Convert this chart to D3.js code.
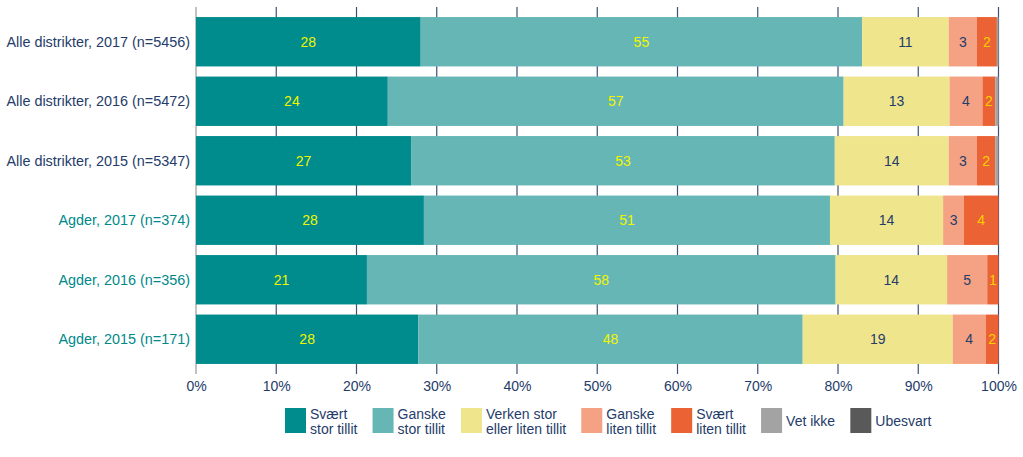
<!DOCTYPE html>
<html><head><meta charset="utf-8">
<script src="https://cdn.jsdelivr.net/npm/d3@7"></script>
<style>body{margin:0;background:#fff}svg{display:block;font-family:"Liberation Sans",Arial,sans-serif}</style>
</head><body><svg id="c" width="1023" height="457"></svg>
<script>
const categories = ["Alle distrikter, 2017 (n=5456)","Alle distrikter, 2016 (n=5472)","Alle distrikter, 2015 (n=5347)","Agder, 2017 (n=374)","Agder, 2016 (n=356)","Agder, 2015 (n=171)"];
const seriesNames = ["Svært stor tillit","Ganske stor tillit","Verken stor eller liten tillit","Ganske liten tillit","Svært liten tillit","Vet ikke","Ubesvart"];
const legendLines = [["Svært","stor tillit"],["Ganske","stor tillit"],["Verken stor","eller liten tillit"],["Ganske","liten tillit"],["Svært","liten tillit"],["Vet ikke"],["Ubesvart"]];
const svaertStor  = [28.0, 23.9, 26.8, 28.4, 21.3, 27.7];
const ganskeStor  = [55.0, 56.8, 52.8, 50.6, 58.4, 47.9];
const verken      = [10.8, 13.2, 14.2, 14.1, 13.9, 18.7];
const ganskeLiten = [3.5, 4.1, 3.5, 2.6, 5.0, 4.1];
const svaertLiten = [2.5, 1.6, 2.3, 4.3, 1.4, 1.6];
const vetIkke     = [0.2, 0.4, 0.4, 0.0, 0.0, 0.0];
const ubesvart    = [0.0, 0.0, 0.0, 0.0, 0.0, 0.0];
const barLabels = [
  ["28","55","11","3","2"],["24","57","13","4","2"],["27","53","14","3","2"],
  ["28","51","14","3","4"],["21","58","14","5","1"],["28","48","19","4","2"]];
const xTicks = [0,10,20,30,40,50,60,70,80,90,100];

const colors = ["#008b8c","#66b6b6","#efe58d","#f4a283","#eb6234","#a3a3a3","#595959"];
const labelColors = ["#f2f500","#f2f500","#253c6a","#253c6a","#ffd000"];
const navy = "#253c6a";

const seriesVals = [svaertStor,ganskeStor,verken,ganskeLiten,svaertLiten,vetIkke,ubesvart];
const rows = categories.map((c,i)=>{const o={cat:c};seriesNames.forEach((s,j)=>o[s]=seriesVals[j][i]);return o;});
const stacked = d3.stack().keys(seriesNames)(rows);

const svg = d3.select("#c");
const m = {l:196, r:998.5, t:12, b:369};
const x = d3.scaleLinear().domain([0,100]).range([m.l,m.r]);
const y = d3.scaleBand().domain(categories).range([m.t,m.b]).paddingInner(0.17).paddingOuter(0.085);

// gridlines
svg.append("g").selectAll("line").data(xTicks.slice(1)).join("line")
  .attr("x1",d=>x(d)).attr("x2",d=>x(d)).attr("y1",7).attr("y2",374)
  .attr("stroke","#3d5373").attr("stroke-width",1.2);
// left axis
svg.append("line").attr("x1",x(0)).attr("x2",x(0)).attr("y1",7).attr("y2",374).attr("stroke","#999").attr("stroke-width",1.2);

// bars
const g = svg.append("g");
stacked.forEach((s,j)=>{
  g.append("g").attr("fill",colors[j]).selectAll("rect").data(s).join("rect")
   .attr("x",d=>x(d[0])).attr("width",d=>Math.max(0,x(d[1])-x(d[0])))
   .attr("y",d=>y(d.data.cat)).attr("height",y.bandwidth());
});
// bar labels
stacked.slice(0,5).forEach((s,j)=>{
  g.append("g").selectAll("text").data(s).join("text")
   .attr("x",d=>(x(d[0])+x(d[1]))/2).attr("y",d=>y(d.data.cat)+y.bandwidth()/2)
   .attr("dy","0.36em").attr("text-anchor","middle").attr("font-size",14)
   .attr("fill",labelColors[j]).text((d,i)=>barLabels[i][j]);
});

// category labels
svg.append("g").selectAll("text").data(categories).join("text")
  .attr("x",190).attr("y",d=>y(d)+y.bandwidth()/2).attr("dy","0.36em")
  .attr("text-anchor","end").attr("font-size",14.4)
  .attr("fill",(d,i)=>i<3?navy:"#00898a").text(d=>d);

// x axis labels
const xa = svg.append("g").attr("transform",`translate(0,${m.b})`)
  .call(d3.axisBottom(x).tickValues(xTicks).tickFormat(d=>d+"%").tickSize(0).tickPadding(12));
xa.select(".domain").remove();
xa.selectAll("text").attr("font-size",14).attr("fill",navy).attr("font-family","Liberation Sans, Arial, sans-serif");

// legend
const leg = svg.append("g");
let lx = 285;
legendLines.forEach((lines,i)=>{
  const it = leg.append("g").attr("transform",`translate(${lx},408)`);
  it.append("rect").attr("width",21).attr("height",25).attr("fill",colors[i]);
  const t = it.append("text").attr("x",25).attr("font-size",14).attr("fill",navy);
  if(lines.length===2){
    t.append("tspan").attr("x",25).attr("y",11).text(lines[0]);
    t.append("tspan").attr("x",25).attr("y",25.5).text(lines[1]);
  } else {
    t.append("tspan").attr("x",25).attr("y",18).text(lines[0]);
  }
  const w = it.node().getBBox().width;
  lx += w + 15;
});
</script></body></html>
